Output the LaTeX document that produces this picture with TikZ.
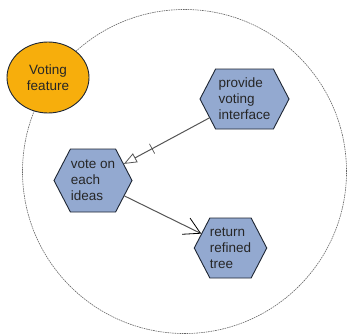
\documentclass[tikz,border=0pt]{standalone}
\usepackage{fontspec}
\setmainfont{Liberation Sans}
\usetikzlibrary{shapes.symbols,shapes.geometric,arrows.meta}
\definecolor{hexfill}{HTML}{93A9D0}
\definecolor{orangefill}{HTML}{F7AE0C}
\definecolor{edgedark}{HTML}{1E2633}
\definecolor{linegray}{HTML}{555555}
\tikzset{
  hexbox/.style={shape=signal, signal to=west and east, signal pointer angle=125,
    draw=edgedark, line width=0.9pt, fill=hexfill, inner sep=0pt, align=left,
    font=\fontsize{13.5}{16}\selectfont, text=black!85},
  featurebox/.style={ellipse, draw=edgedark, line width=0.9pt, fill=orangefill,
    minimum width=82pt, minimum height=71pt, inner sep=0pt, align=center,
    font=\fontsize{13.5}{16}\selectfont, text=black!85},
  bound/.style={draw=black!60, line width=0.6pt, dash pattern=on 1.6pt off 0.8pt},
  conn/.style={draw=linegray, line width=1pt},
}
\begin{document}
\begin{tikzpicture}[x=1pt,y=-1pt]
\useasboundingbox (0,0) rectangle (347,335);
\node[bound, circle, minimum size=324pt, inner sep=0pt] (scope) at (184.5,171.5) {};
\node[featurebox] (feat) at (48,77.5) {Voting\\feature};
\node[hexbox, minimum width=89pt, minimum height=60pt] (prov) at (244.5,99) {provide\\voting\\interface};
\node[hexbox, minimum width=78pt, minimum height=63pt] (vote) at (93,180.5) {vote on\\each\\ideas};
\node[hexbox, minimum width=71pt, minimum height=60pt] (ret) at (230.5,248) {return\\refined\\tree};
\draw[conn, -{Triangle[open, length=13pt, width=10pt, line width=0.8pt]}]
  (prov) -- (vote) node[pos=0.67, sloped, inner sep=0pt, minimum height=11pt, minimum width=0pt, draw=linegray, line width=0.7pt, shape=rectangle] (tick) {};
\draw[conn, -{Straight Barb[length=16pt, width=18pt, line width=0.8pt, color=black]}] (vote) -- (ret);
\end{tikzpicture}
\end{document}
